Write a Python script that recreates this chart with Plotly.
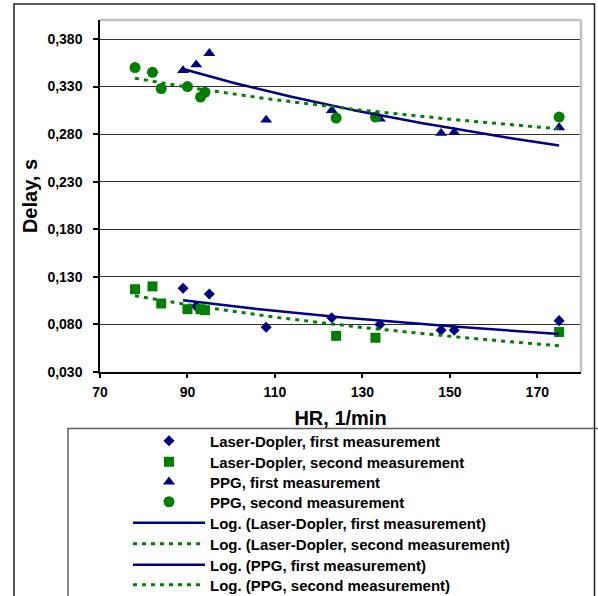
import numpy as np
import plotly.graph_objects as go

# ---- data ----
hr_first = [89, 92, 95, 108, 123, 134, 148, 151, 175]
hr_second = [78, 82, 84, 90, 93, 94, 124, 133, 175]

ld_first = [0.118, 0.099, 0.112, 0.077, 0.087, 0.080, 0.074, 0.074, 0.084]
ld_second = [0.117, 0.120, 0.102, 0.096, 0.096, 0.095, 0.068, 0.066, 0.072]
ppg_first = [0.347, 0.353, 0.365, 0.295, 0.305, 0.296, 0.281, 0.282, 0.287]
ppg_second = [0.350, 0.345, 0.328, 0.330, 0.319, 0.324, 0.297, 0.298, 0.298]

names = ["Laser-Dopler, first measurement", "Laser-Dopler, second measurement",
         "PPG, first measurement", "PPG, second measurement"]

y_ticks = [0.030, 0.080, 0.130, 0.180, 0.230, 0.280, 0.330, 0.380]
x_ticks = [70, 90, 110, 130, 150, 170]

NAVY = "#000080"
GREEN = "#008000"
FONT = "Liberation Sans, Arial, sans-serif"

# layout geometry (pixels)
W, H = 598, 596
ML, MR, MT, MB = 100, 17, 20, 224
PW, PH = W - ML - MR, H - MT - MB


def px_x(p):
    return (p - ML) / PW


def px_y(p):
    return (H - MB - p) / PH


def log_fit(x, y):
    x = np.asarray(x, float)
    y = np.asarray(y, float)
    a, b = np.polyfit(np.log(x), y, 1)
    xs = np.linspace(x.min(), x.max(), 60)
    return xs, a * np.log(xs) + b


fig = go.Figure()

series = [
    (hr_first, ld_first, names[0], "diamond", NAVY, 8.5),
    (hr_second, ld_second, names[1], "square", GREEN, 10),
    (hr_first, ppg_first, names[2], "triangle-up", NAVY, 10.5),
    (hr_second, ppg_second, names[3], "circle", GREEN, 11),
]

legend_rows = [441, 462, 482, 502, 523, 544, 565, 585]
legend_ids = ["legend"] + ["legend%d" % i for i in range(2, 9)]

k = 0
for x, y, nm, sym, col, sz in series:
    fig.add_trace(go.Scatter(x=x, y=y, mode="markers", name=nm, legend=legend_ids[k],
                             marker=dict(symbol=sym, color=col, size=sz,
                                         line=dict(width=0))))
    k += 1

for x, y, nm, sym, col, sz in series:
    xs, ys = log_fit(x, y)
    if col == NAVY:
        ln = dict(color=NAVY, width=2.5)
    else:
        ln = dict(color=GREEN, width=3, dash="4px,5px")
    fig.add_trace(go.Scatter(x=xs, y=ys, mode="lines", name="Log. (" + nm + ")",
                             legend=legend_ids[k], line=ln))
    k += 1

legends = {}
for lid, row in zip(legend_ids, legend_rows):
    legends[lid] = dict(x=px_x(128), y=px_y(row), xanchor="left", yanchor="middle",
                        itemwidth=72,
                        font=dict(family=FONT, size=15, weight="bold", color="black"),
                        bgcolor="rgba(0,0,0,0)", borderwidth=0)

# plot-area top/right light border, outer chart frame, legend frame
shapes = [
    dict(type="line", xref="paper", yref="paper", x0=0, x1=1, y0=1, y1=1,
         line=dict(color="#c0c0c0", width=2.5)),
    dict(type="line", xref="paper", yref="paper", x0=1, x1=1, y0=0, y1=1,
         line=dict(color="#c0c0c0", width=2.5)),
    dict(type="rect", xref="paper", yref="paper", x0=px_x(68), x1=px_x(700),
         y0=px_y(700), y1=px_y(428.5), line=dict(color="#606060", width=1.5),
         fillcolor="rgba(0,0,0,0)"),
    dict(type="rect", xref="paper", yref="paper", x0=px_x(14), x1=px_x(594.5),
         y0=px_y(700), y1=px_y(4), line=dict(color="#202020", width=1.5),
         fillcolor="rgba(0,0,0,0)"),
]

fig.update_layout(
    width=W, height=H,
    margin=dict(l=ML, r=MR, t=MT, b=MB, autoexpand=False),
    paper_bgcolor="white", plot_bgcolor="white",
    separators=",.",
    font=dict(family=FONT, color="black", size=14, weight="bold"),
    showlegend=True,
    shapes=shapes,
    xaxis=dict(range=[70, 180], tickvals=x_ticks, ticktext=[str(v) for v in x_ticks],
               ticks="outside", ticklen=4, tickwidth=1.5, tickcolor="black",
               ticklabelstandoff=2,
               showline=True, linecolor="black", linewidth=1.5,
               showgrid=False, zeroline=False,
               tickfont=dict(family=FONT, size=14, weight="bold"),
               title=dict(text="HR, 1/min", standoff=12,
                          font=dict(family=FONT, size=20, weight="bold"))),
    yaxis=dict(range=[0.030, 0.400], tickvals=y_ticks, tickformat=".3f",
               ticks="outside", ticklen=5, tickwidth=1.5, tickcolor="black",
               ticklabelstandoff=8,
               showline=True, linecolor="black", linewidth=1.5,
               showgrid=True, gridcolor="#333333", gridwidth=1, zeroline=False,
               tickfont=dict(family=FONT, size=14, weight="bold"),
               title=dict(text="Delay, s", standoff=4,
                          font=dict(family=FONT, size=20, weight="bold"))),
    **legends,
)

fig.write_html("out.html", config={"displayModeBar": False},
               post_script="document.body.style.margin='0';"
                           "document.body.style.overflow='hidden';")
